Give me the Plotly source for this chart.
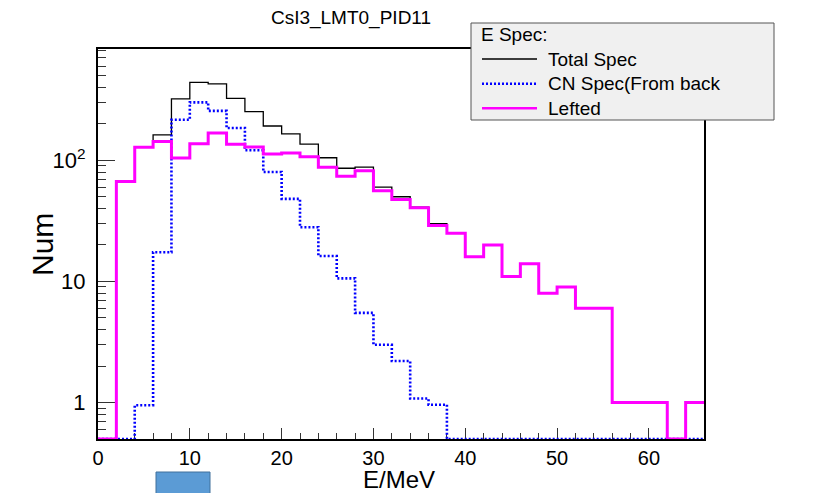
import plotly.graph_objects as go
import math

# ---------------- data ----------------
bin_edges = list(range(0, 68, 2))  # 0..66, bin width 2 MeV

total_spec = [0, 67, 128, 162, 321, 440, 428, 325, 252, 192, 165, 136, 105, 86, 88,
              60, 50, 41, 30, 25, 16, 20, 11, 14, 8, 9, 6, 6, 1, 1, 1, 0, 1]
cn_spec = [0, 0, 0.95, 17.4, 216, 301, 256, 185, 121, 80, 48, 28, 16.2, 10.6, 5.5,
           3, 2.2, 1.08, 0.96, 0, 0, 0, 0, 0, 0, 0, 0, 0, 0, 0, 0, 0, 0]
lefted = [0, 67, 128, 143, 104.5, 137, 168, 136, 129, 113, 115, 107, 87.5, 74, 82,
          56, 47.5, 40.5, 29, 25, 16, 20, 11, 14, 8, 9, 6, 6, 1, 1, 1, 0, 1]

series_names = ["Total Spec", "CN Spec(From back", "Lefted"]
legend_title = "E Spec:"
x_tick_vals = [0, 10, 20, 30, 40, 50, 60]
y_tick_vals = [1, 10, 100]
y_tick_text = ["1", "10", "10<sup>2</sup>"]

X_RANGE = [0, 66]
Y_MIN, Y_MAX = 0.5, 830

# ---------------- layout geometry ----------------
# the page body has an 8px margin, so the figure is placed 8px in from the window corner
OFF = 8
WIN_W, WIN_H = 817, 493
W, H = WIN_W - OFF, WIN_H - OFF
# plot frame in window pixels: x 98..704, y 49..439
FX0, FX1, FY0, FY1 = 98, 704, 49, 439
ML, MT = FX0 - OFF, FY0 - OFF
MR, MB = W - (FX1 - OFF), H - (FY1 - OFF)
PW, PH = W - ML - MR, H - MT - MB


def px_to_paper_x(px):
    return (px - FX0) / PW


def px_to_paper_y(py):
    return (FY1 - py) / PH


def step_xy(values):
    # histogram step outline: value held from edge i to edge i+1; zeros on the frame floor
    ys = [max(v, Y_MIN) for v in values]
    return bin_edges, ys + [ys[-1]]


font_family = "Liberation Sans, Arial, sans-serif"

fig = go.Figure()
styles = [
    dict(color="black", width=1.3, dash="solid"),
    dict(color="#0000ff", width=2.6, dash="2px,2px"),
    dict(color="#ff00ff", width=3, dash="solid"),
]
for name, vals, st in zip(series_names, [total_spec, cn_spec, lefted], styles):
    xs, ys = step_xy(vals)
    fig.add_trace(go.Scatter(x=xs, y=ys, mode="lines", name=name, showlegend=False,
                             line=dict(shape="hv", **st)))

# ---- ROOT-style legend box (drawn as shapes + text) ----
LEG_X0, LEG_X1, LEG_Y0, LEG_Y1 = 471, 774, 23, 120
shapes = [
    dict(type="rect", xref="paper", yref="paper",
         x0=px_to_paper_x(LEG_X0), x1=px_to_paper_x(LEG_X1),
         y0=px_to_paper_y(LEG_Y1), y1=px_to_paper_y(LEG_Y0),
         fillcolor="#f0f0f0", line=dict(color="#555555", width=1), layer="above"),
]
annotations = [
    dict(text=legend_title, xref="paper", yref="paper",
         x=px_to_paper_x(479), y=px_to_paper_y(35), xanchor="left", yanchor="middle",
         showarrow=False, font=dict(size=19, family=font_family, color="black")),
]
item_y = [59, 83.7, 108.3]
for name, st, iy in zip(series_names, styles, item_y):
    shapes.append(dict(type="line", xref="paper", yref="paper",
                       x0=px_to_paper_x(482), x1=px_to_paper_x(537),
                       y0=px_to_paper_y(iy), y1=px_to_paper_y(iy),
                       line=dict(color=st["color"], width=min(st["width"], 2.5),
                                 dash=st["dash"]), layer="above"))
    annotations.append(dict(text=name, xref="paper", yref="paper",
                            x=px_to_paper_x(546), y=px_to_paper_y(iy), xanchor="left",
                            yanchor="middle", showarrow=False,
                            font=dict(size=19, family=font_family, color="black")))

# odd blue block below the axis in the reference image
shapes.append(dict(type="rect", xref="paper", yref="paper",
                   x0=px_to_paper_x(156), x1=px_to_paper_x(210),
                   y0=px_to_paper_y(494), y1=px_to_paper_y(472),
                   fillcolor="#5b9bd5", line=dict(color="#41719c", width=1)))

annotations.append(dict(text="Num", textangle=-90, xref="paper", yref="paper",
                        x=px_to_paper_x(42), y=px_to_paper_y(245), xanchor="center",
                        yanchor="middle", showarrow=False,
                        font=dict(size=30, family=font_family, color="black")))
annotations.append(dict(text="E/MeV", xref="paper", yref="paper",
                        x=px_to_paper_x(399), y=px_to_paper_y(479.5), xanchor="center",
                        yanchor="middle", showarrow=False,
                        font=dict(size=24, family=font_family, color="black")))

minor_x = [v for v in range(0, 67, 2) if v % 10 != 0]
minor_y = []
for dec in [0.1, 1, 10, 100]:
    for m in range(2, 10):
        v = m * dec
        if Y_MIN <= v <= Y_MAX:
            minor_y.append(v)

fig.update_layout(
    width=W, height=H,
    margin=dict(l=ML, r=MR, t=MT, b=MB, pad=0),
    paper_bgcolor="white", plot_bgcolor="white",
    font=dict(family=font_family, color="black"),
    title=dict(text="CsI3_LMT0_PID11", x=(351 - OFF) / W, xref="container", xanchor="center",
               y=1 - (17 - OFF) / H, yref="container", yanchor="middle",
               font=dict(size=19, color="black", family=font_family)),
    showlegend=False,
    xaxis=dict(
        range=X_RANGE, showgrid=False, zeroline=False,
        showline=True, linecolor="black", linewidth=2, mirror=True,
        ticks="inside", ticklen=11, tickwidth=1, tickcolor="#333",
        tickvals=x_tick_vals, ticktext=[str(v) for v in x_tick_vals],
        tickfont=dict(size=20, family=font_family, color="black"),
        minor=dict(tickvals=minor_x, ticks="inside", ticklen=6, tickwidth=1, tickcolor="#333"),
        layer="below traces",
    ),
    yaxis=dict(
        type="log", range=[math.log10(Y_MIN), math.log10(Y_MAX)],
        showgrid=False, zeroline=False,
        showline=True, linecolor="black", linewidth=2, mirror=True,
        ticks="inside", ticklen=17, tickwidth=1, tickcolor="#333",
        tickvals=y_tick_vals, ticktext=y_tick_text, ticklabelstandoff=6,
        tickfont=dict(size=22, family=font_family, color="black"),
        minor=dict(tickvals=minor_y, ticks="inside", ticklen=8, tickwidth=1, tickcolor="#333"),
        layer="below traces",
    ),
    annotations=annotations,
    shapes=shapes,
)

fig.write_html("out.html")
